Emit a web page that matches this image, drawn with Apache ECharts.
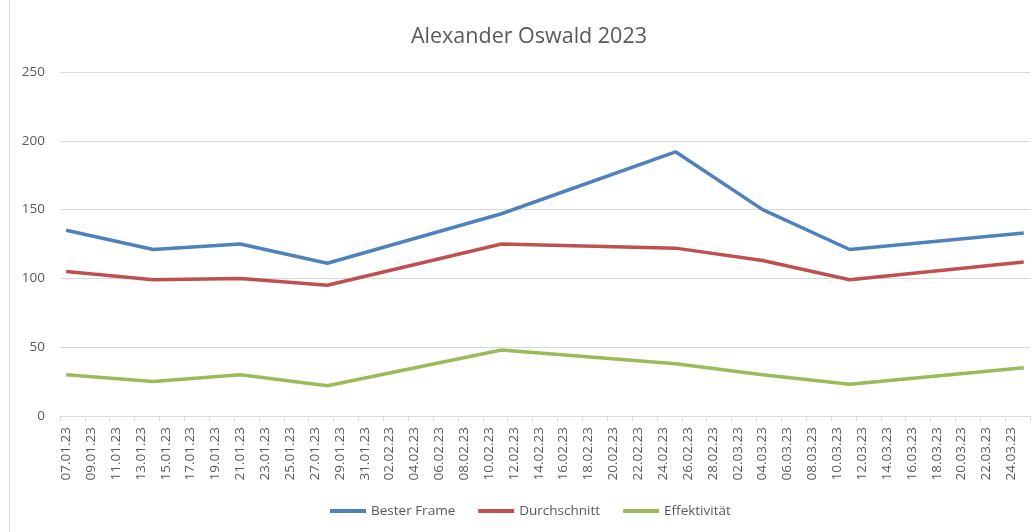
<!DOCTYPE html>
<html>
<head>
<meta charset="utf-8">
<script src="https://cdn.jsdelivr.net/npm/echarts@6/dist/echarts.min.js"></script>
<style>
html,body{margin:0;padding:0;background:#fff;}
#c{width:1034px;height:532px;}
</style>
</head>
<body>
<div id="c"></div>
<script>
// ---- data ----
const titleText = 'Alexander Oswald 2023';
const axisStart = [2023, 1, 7];   // first day on the date axis
const axisEnd = [2023, 3, 25];    // last day on the date axis
const pointDates = ['07.01.23','14.01.23','21.01.23','28.01.23','11.02.23','25.02.23','04.03.23','11.03.23','25.03.23'];
const besterFrame = [135, 121, 125, 111, 147, 192, 150, 121, 133];
const durchschnitt = [105, 99, 100, 95, 125, 122, 113, 99, 112];
const effektivitaet = [30, 25, 30, 22, 48, 38, 30, 23, 35];
const seriesNames = ['Bester Frame', 'Durchschnitt', 'Effektivität'];
const yTicks = [0, 50, 100, 150, 200, 250];

// ---- build day categories for the date axis ----
function fmt(d){
  const dd = String(d.getUTCDate()).padStart(2,'0');
  const mm = String(d.getUTCMonth()+1).padStart(2,'0');
  const yy = String(d.getUTCFullYear()).slice(2);
  return dd + '.' + mm + '.' + yy;
}
const days = [];
{
  let t = Date.UTC(axisStart[0], axisStart[1]-1, axisStart[2]);
  const end = Date.UTC(axisEnd[0], axisEnd[1]-1, axisEnd[2]);
  while (t <= end) { days.push(fmt(new Date(t))); t += 86400000; }
}
function pairs(vals){ return pointDates.map((d,i)=>[days.indexOf(d), vals[i]]); }

const colors = ['#4F81BD', '#C0504D', '#9BBB59'];
const font = '"Open Sans", "Noto Sans", sans-serif';
const chart = echarts.init(document.getElementById('c'), null, {renderer:'canvas'});
chart.setOption({
  animation: false,
  color: colors,
  title: {
    text: titleText, left: 406, top: 21,
    textStyle: {fontFamily: font, fontSize: 21.5, fontWeight: 'normal', color: '#595959'}
  },
  legend: {
    bottom: 9, left: 325, itemGap: 23, itemWidth: 36, itemHeight: 4,
    icon: 'rect',
    textStyle: {fontFamily: font, fontSize: 13.5, color: '#595959'},
    data: seriesNames
  },
  graphic: [{
    type: 'line', shape: {x1: 9.5, y1: 0, x2: 9.5, y2: 532},
    style: {stroke: '#d9d9d9', lineWidth: 1}, silent: true
  }],
  grid: {left: 60, right: 4, top: 72, bottom: 116, containLabel: false},
  xAxis: {
    type: 'category', data: days, boundaryGap: true,
    axisLine: {lineStyle: {color: '#d9d9d9'}},
    axisTick: {show: true, interval: 1, length: 5, lineStyle: {color: '#d9d9d9'}},
    axisLabel: {interval: 1, rotate: 90, margin: 11, color: '#595959', fontFamily: font, fontSize: 13.5},
    splitLine: {show: false}
  },
  yAxis: {
    type: 'value', min: yTicks[0], max: yTicks[yTicks.length-1], interval: 50,
    axisLine: {show: false}, axisTick: {show: false},
    axisLabel: {margin: 15, color: '#595959', fontFamily: font, fontSize: 13.5},
    splitLine: {lineStyle: {color: '#d9d9d9', width: 1}}
  },
  series: [
    {name: seriesNames[0], type: 'line', data: pairs(besterFrame), showSymbol: false, symbol: 'none', lineStyle: {width: 3.5}},
    {name: seriesNames[1], type: 'line', data: pairs(durchschnitt), showSymbol: false, symbol: 'none', lineStyle: {width: 3.5}},
    {name: seriesNames[2], type: 'line', data: pairs(effektivitaet), showSymbol: false, symbol: 'none', lineStyle: {width: 3.5}}
  ]
});
</script>
</body>
</html>
